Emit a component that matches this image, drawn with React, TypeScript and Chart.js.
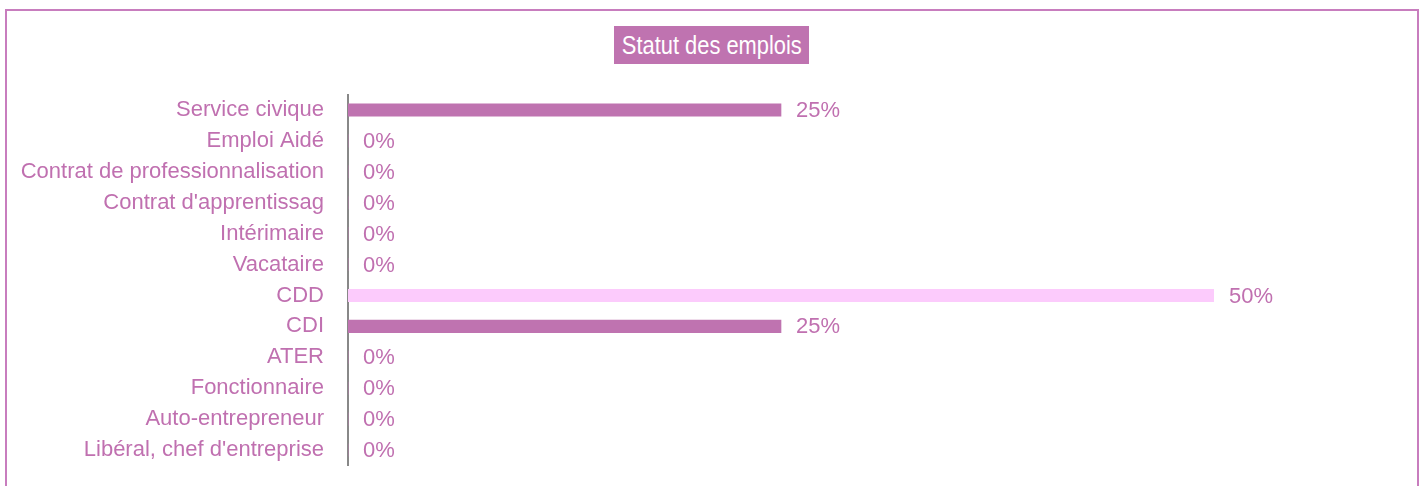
import React, { useEffect, useRef } from "react";
import { Chart, registerables } from "chart.js";

Chart.register(...registerables);

const categories = [
  "Service civique",
  "Emploi Aidé",
  "Contrat de professionnalisation",
  "Contrat d'apprentissag",
  "Intérimaire",
  "Vacataire",
  "CDD",
  "CDI",
  "ATER",
  "Fonctionnaire",
  "Auto-entrepreneur",
  "Libéral, chef d'entreprise",
];
const values = [25, 0, 0, 0, 0, 0, 50, 25, 0, 0, 0, 0];
const title = "Statut des emplois";

const FONT = "'Liberation Sans', Arial, sans-serif";
const MAIN = "#bf73b0";
const LIGHT = "#fccbfc";
const TEXT = "#c070b0";

const dataLabels = {
  id: "dataLabels",
  afterDatasetsDraw(chart: any) {
    const ctx = chart.ctx;
    const meta = chart.getDatasetMeta(0);
    ctx.save();
    ctx.font = `22px ${FONT}`;
    ctx.fillStyle = TEXT;
    ctx.textAlign = "left";
    ctx.textBaseline = "middle";
    meta.data.forEach((bar: any, i: number) => {
      ctx.fillText(`${values[i]}%`, bar.x + 15, bar.y + 1);
    });
    ctx.restore();
  },
};

export default function App() {
  const ref = useRef<HTMLCanvasElement>(null);
  useEffect(() => {
    if (!ref.current) return;
    const chart = new Chart(ref.current, {
      type: "bar",
      data: {
        labels: categories,
        datasets: [
          {
            data: values,
            backgroundColor: categories.map((c) => (c === "CDD" ? LIGHT : MAIN)),
            barThickness: 12.5,
            borderWidth: 0,
          },
        ],
      },
      options: {
        indexAxis: "y",
        animation: false,
        responsive: false,
        maintainAspectRatio: false,
        layout: { padding: { top: 94.5, bottom: 20.5, right: 211, left: 0 } },
        plugins: { legend: { display: false }, tooltip: { enabled: false }, title: { display: false } },
        scales: {
          x: { display: false, min: 0, max: 50 },
          y: {
            afterFit: (s: any) => {
              s.width = 348;
              s.paddingTop = 0;
              s.paddingBottom = 0;
            },
            grid: { display: false, drawTicks: false },
            border: { display: true, color: "#888888", width: 2 },
            ticks: {
              padding: 24,
              color: TEXT,
              font: { family: FONT, size: 22 },
              autoSkip: false,
            },
          },
        },
      },
      plugins: [dataLabels],
    });
    return () => chart.destroy();
  }, []);

  return (
    <div style={{ position: "absolute", left: 0, top: 0, width: 1425, height: 486, overflow: "hidden", background: "#fff" }}>
      <div
        style={{
          position: "absolute",
          left: 5,
          top: 9,
          width: 1414,
          height: 520,
          boxSizing: "border-box",
          border: "2px solid #c87dbe",
        }}
      />
      <canvas ref={ref} width={1425} height={486} style={{ position: "absolute", left: 0, top: 0 }} />
      <div
        style={{
          position: "absolute",
          left: 614,
          top: 26,
          width: 195,
          height: 38,
          background: MAIN,
          color: "#fff",
          fontFamily: FONT,
          fontSize: 25,
          display: "flex",
          alignItems: "center",
          justifyContent: "center",
          whiteSpace: "nowrap",
        }}
      >
        <span style={{ display: "inline-block", transform: "scaleX(0.875)" }}>{title}</span>
      </div>
    </div>
  );
}
